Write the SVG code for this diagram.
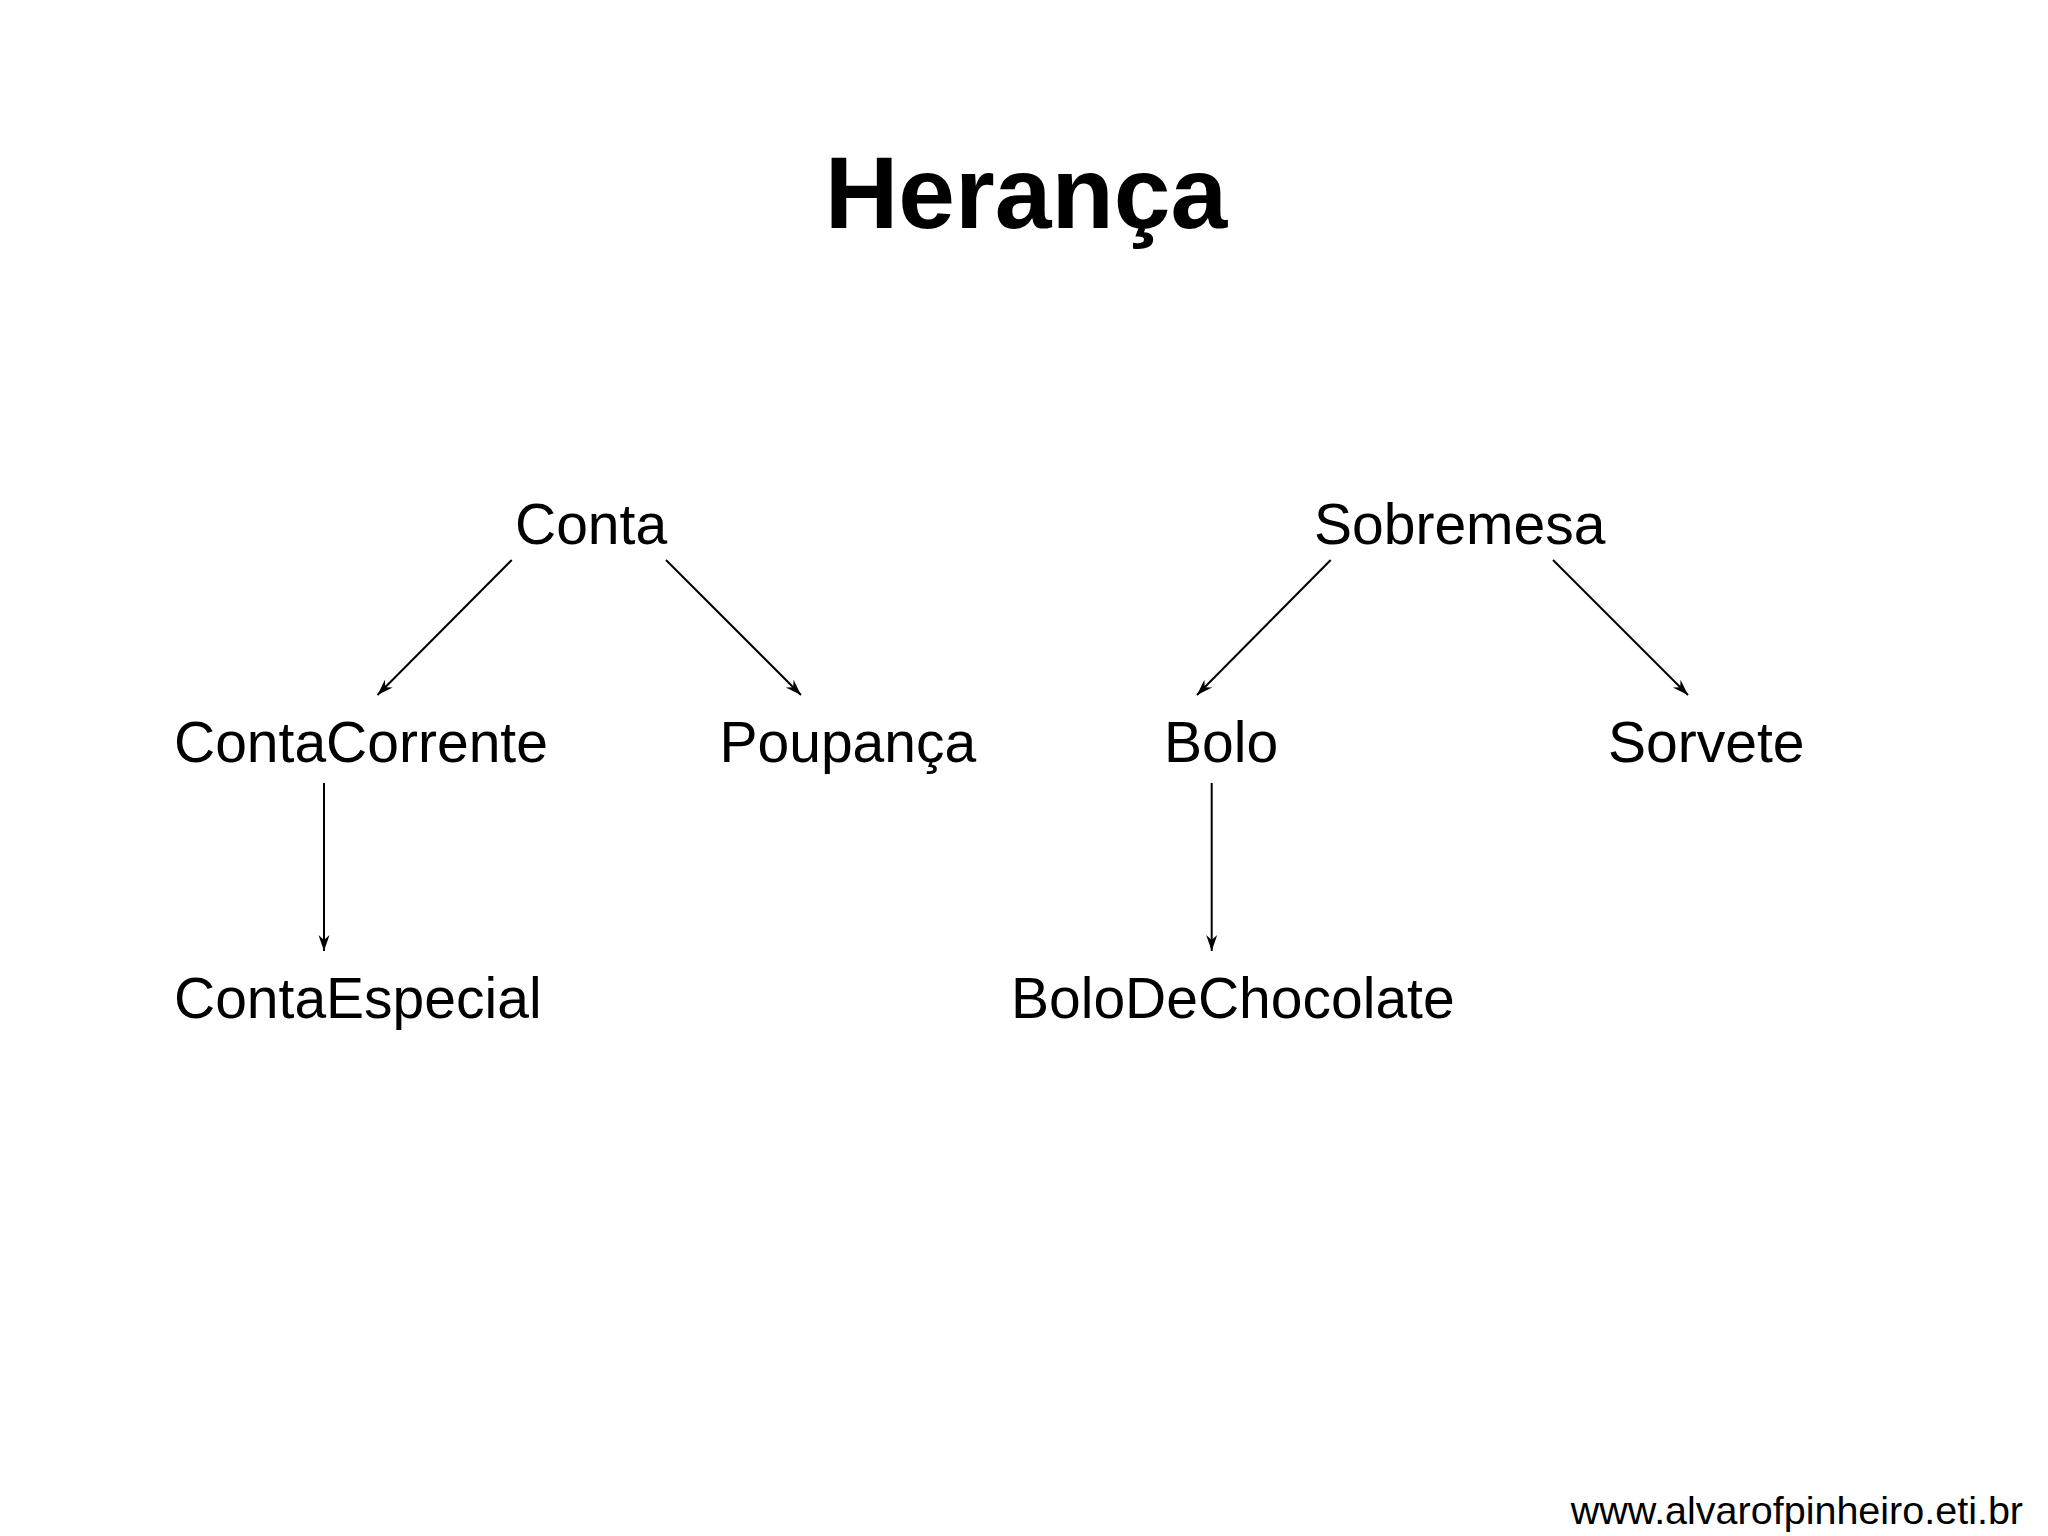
<svg xmlns="http://www.w3.org/2000/svg" width="2048" height="1536" viewBox="0 0 2048 1536">
<style>
.t{font-family:"Liberation Sans",Arial,sans-serif;font-size:57px;fill:#000}
.title{font-family:"Liberation Sans",Arial,sans-serif;font-size:102px;font-weight:bold;fill:#000}
.foot{font-family:"Liberation Sans",Arial,sans-serif;font-size:39.5px;fill:#000}
.c{stroke:#000;stroke-width:2;fill:none;marker-end:url(#arr)}
</style>
<defs>
<marker id="arr" viewBox="-18 -7 20 14" refX="0" refY="0" markerWidth="20" markerHeight="14" markerUnits="userSpaceOnUse" orient="auto">
<path d="M0,0 L-16,-5.5 L-11,0 L-16,5.5 Z" fill="#000"/>
</marker>
</defs>
<rect width="2048" height="1536" fill="#fff"/>
<text class="title" x="1026" y="228" text-anchor="middle">Herança</text>
<g id="connectors">
<line class="c" x1="511.7" y1="560" x2="377.5" y2="695"/>
<line class="c" x1="666" y1="560" x2="801" y2="695"/>
<line class="c" x1="324" y1="783" x2="324" y2="951"/>
<line class="c" x1="1330.7" y1="560" x2="1197" y2="695"/>
<line class="c" x1="1553" y1="560" x2="1688" y2="695"/>
<line class="c" x1="1211.7" y1="783" x2="1211.7" y2="951"/>
</g>
<g id="conta"><text class="t" x="515" y="544">Conta</text></g>
<g id="contacorrente"><text class="t" x="174" y="762">ContaCorrente</text></g>
<g id="poupanca"><text class="t" x="719.5" y="762">Poupança</text></g>
<g id="contaespecial"><text class="t" x="174" y="1018">ContaEspecial</text></g>
<g id="sobremesa"><text class="t" x="1314" y="544">Sobremesa</text></g>
<g id="bolo"><text class="t" x="1164" y="762">Bolo</text></g>
<g id="sorvete"><text class="t" x="1608" y="762">Sorvete</text></g>
<g id="bolodechocolate"><text class="t" x="1011" y="1018">BoloDeChocolate</text></g>
<text class="foot" x="2023" y="1524" text-anchor="end">www.alvarofpinheiro.eti.br</text>
</svg>
